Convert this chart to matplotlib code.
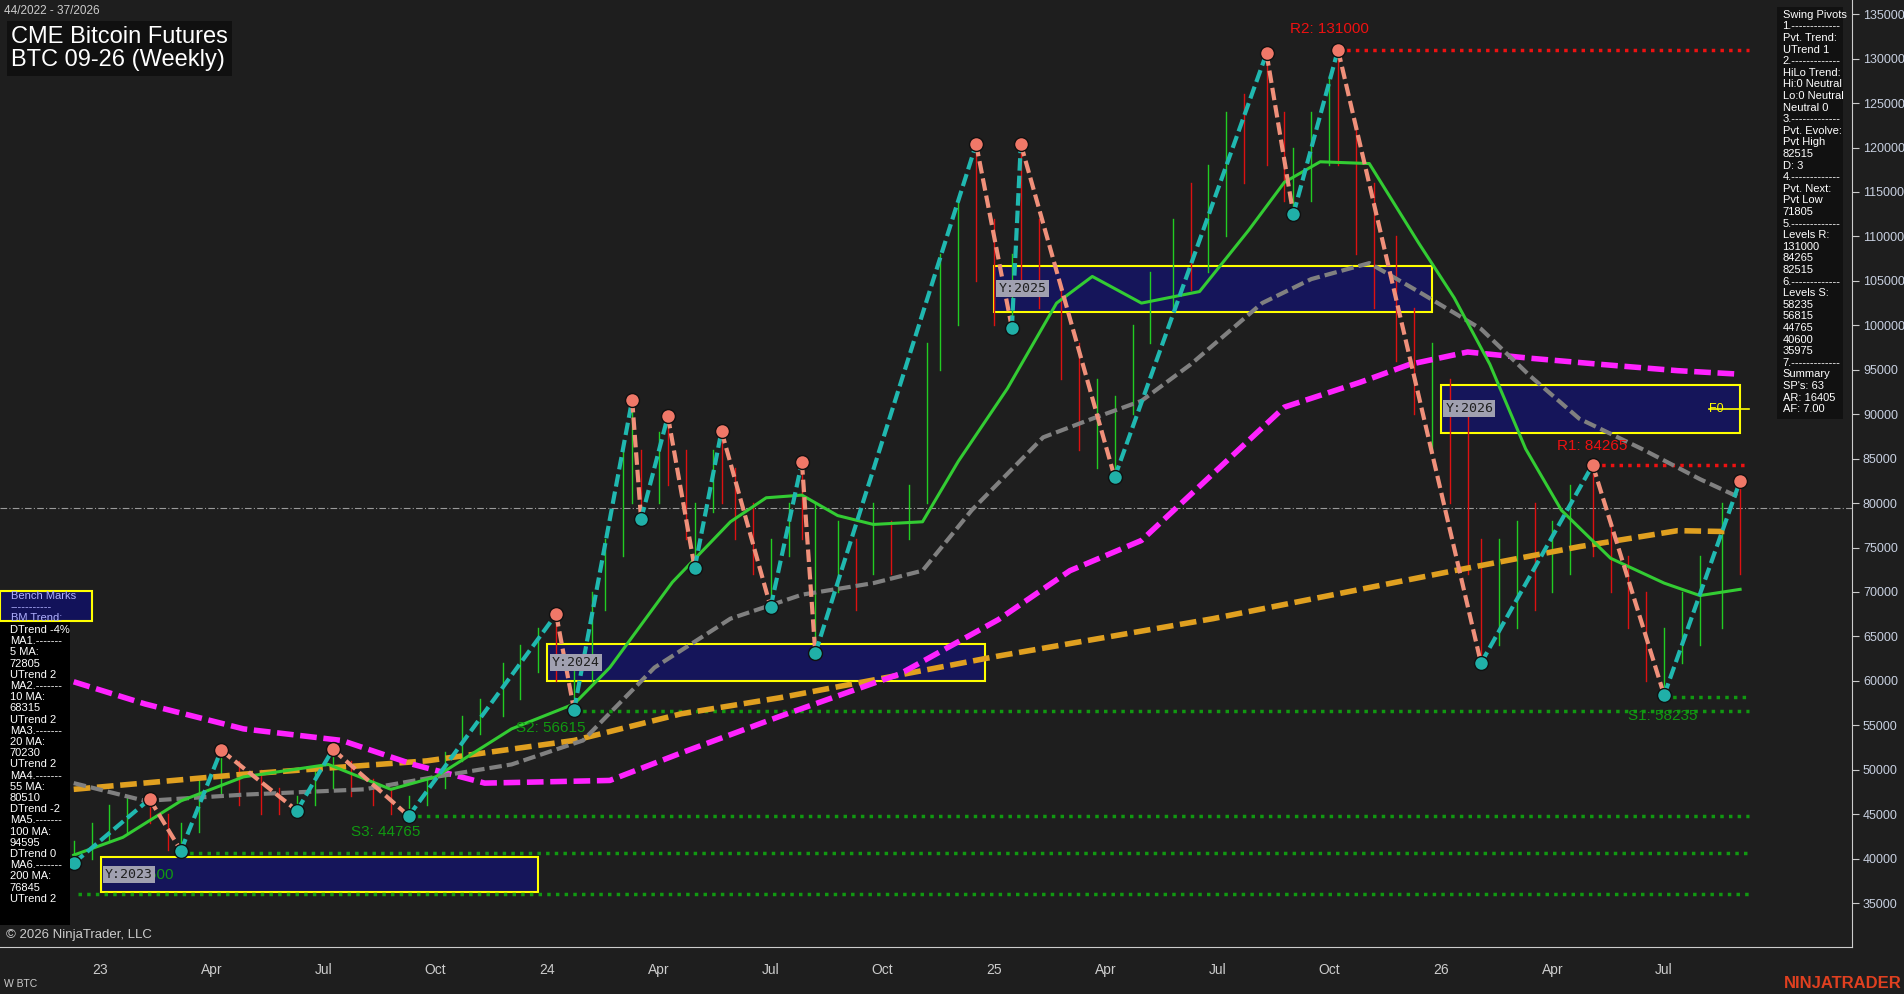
import matplotlib
matplotlib.use("Agg")
import matplotlib.pyplot as plt
from matplotlib.patches import Rectangle

plt.rcParams['font.family'] = ['Liberation Sans', 'DejaVu Sans']

# ---------------- data ----------------
bar_t = [2022.90,2022.94,2022.98,2023.02,2023.06,2023.11,2023.15,2023.18,2023.22,2023.27,2023.31,2023.36,2023.40,2023.44,2023.48,2023.52,2023.56,2023.61,2023.65,2023.69,2023.73,2023.77,2023.81,2023.85,2023.90,2023.94,2023.98,2024.02,2024.06,2024.10,2024.13,2024.17,2024.19,2024.21,2024.25,2024.27,2024.31,2024.33,2024.37,2024.39,2024.42,2024.46,2024.50,2024.54,2024.57,2024.60,2024.65,2024.69,2024.73,2024.77,2024.81,2024.85,2024.88,2024.92,2024.96,2025.00,2025.04,2025.06,2025.10,2025.15,2025.19,2025.23,2025.27,2025.31,2025.35,2025.40,2025.44,2025.48,2025.52,2025.56,2025.61,2025.65,2025.67,2025.71,2025.75,2025.77,2025.81,2025.85,2025.90,2025.94,2025.98,2026.02,2026.06,2026.09,2026.13,2026.17,2026.21,2026.25,2026.29,2026.34,2026.38,2026.42,2026.46,2026.50,2026.54,2026.58,2026.63,2026.67]
bar_hi = [43,42,44,46,47,47,45,44,49,52.5,51,50,48,47,50,52.5,51,49,48,47,49,52,56,58,62,64,66,67.5,62,70,76,86,92,86,88,90,86,80,86,88,84,80,76,80,85,80,78,76,80,78,82,98,108,114,120.5,112,108,120.4,112,104,98,94,92,100,106,112,116,118,124,126,131,124,120,124,128,131,122,116,110,102,98,94,90,76,76,78,80,78,82,84.3,78,74,70,66,70,74,80,82.5]
bar_lo = [38,39,40,42,43,44,41,40.5,43,47,46,45,45,45,46,48,47,46,45,44.5,46,48,51,54,56,58,61,60,57,60,68,74,80,78,80,82,76,73,79,80,76,72,68.5,74,76,63,70,68,72,72,76,80,95,100,105,100,99.7,104,102,94,86,84,83,90,98,102,104,106,110,116,118,114,112.5,114,118,118,108,102,96,90,86,80,72,62,64,66,68,70,72,74,70,66,60,58.4,62,64,66,72]
bar_up = [0,1,1,1,1,0,0,1,1,1,0,0,0,1,1,1,0,0,0,1,1,1,1,1,1,1,1,0,1,1,1,1,1,0,1,0,0,1,1,0,0,0,1,1,0,1,1,0,1,0,1,1,1,1,0,0,1,0,0,0,0,1,1,1,1,1,0,1,1,0,0,0,1,1,1,0,0,0,0,0,1,0,0,0,1,1,0,1,1,0,0,0,0,1,1,1,1,0]

piv_t = [2022.94,2023.11,2023.18,2023.27,2023.44,2023.52,2023.69,2024.02,2024.06,2024.19,2024.21,2024.27,2024.33,2024.39,2024.50,2024.57,2024.60,2024.96,2025.04,2025.06,2025.27,2025.61,2025.67,2025.77,2026.09,2026.34,2026.50,2026.67]
piv_v = [39.5,46.7,40.9,52.2,45.4,52.3,44.8,67.5,56.7,91.6,78.2,89.8,72.7,88.1,68.3,84.6,63.1,120.4,99.7,120.4,82.9,130.6,112.5,131.0,62.0,84.3,58.4,82.5]

ma_green_t = [2022.94,2023.05,2023.18,2023.32,2023.51,2023.65,2023.75,2023.92,2024.06,2024.14,2024.28,2024.41,2024.49,2024.57,2024.65,2024.73,2024.84,2024.92,2025.03,2025.14,2025.22,2025.33,2025.46,2025.57,2025.65,2025.73,2025.84,2025.95,2026.03,2026.11,2026.19,2026.27,2026.38,2026.50,2026.58,2026.67]
ma_green_v = [40.4,42.4,46.5,49.2,50.6,47.8,49.2,54.6,57.4,61.5,71.1,77.9,80.6,80.9,78.6,77.6,77.9,84.7,92.9,102.5,105.5,102.5,103.8,110.7,116.1,118.4,118.2,109.3,103.1,95.6,86.1,79.2,73.8,71.0,69.6,70.3]
ma_gray_t = [2022.94,2023.10,2023.32,2023.59,2023.75,2023.92,2024.08,2024.24,2024.41,2024.57,2024.73,2024.84,2024.95,2025.11,2025.22,2025.33,2025.44,2025.60,2025.71,2025.84,2025.95,2026.09,2026.20,2026.31,2026.45,2026.58,2026.67]
ma_gray_v = [48.5,46.5,47.2,47.8,49.2,50.6,53.3,61.5,67.0,69.7,71.0,72.4,79.2,87.4,89.5,91.5,95.6,102.5,105.2,107.0,103.8,99.6,94.3,89.5,86.1,82.7,80.6]
ma_mag_t = [2022.94,2023.10,2023.32,2023.54,2023.70,2023.86,2024.14,2024.30,2024.52,2024.79,2025.01,2025.17,2025.33,2025.49,2025.65,2025.82,2025.93,2026.06,2026.20,2026.36,2026.53,2026.67]
ma_mag_v = [59.9,57.4,54.6,53.3,50.6,48.5,48.8,51.9,56.0,60.8,66.9,72.4,75.8,83.3,90.8,93.6,95.6,97.0,96.3,95.6,94.9,94.5]
ma_org_t = [2022.94,2023.32,2023.73,2024.06,2024.30,2024.52,2024.73,2025.01,2025.33,2025.49,2025.76,2026.03,2026.31,2026.53,2026.64]
ma_org_v = [47.8,49.5,51.0,53.3,56.3,58.1,60.1,62.8,65.6,67.0,69.7,72.4,75.1,76.9,76.8]

years = [2023, 2024, 2025, 2026]
year_lo = [36.2, 60.0, 101.5, 87.9]
year_hi = [40.2, 64.1, 106.7, 93.3]
year_x0 = [2023.00, 2024.00, 2025.00, 2026.00]
year_x1 = [2023.98, 2024.98, 2025.98, 2026.67]

res_levels = [131.0, 84.265]
res_start = [2025.77, 2026.34]
res_names = ["R2: 131000", "R1: 84265"]
sup_levels = [58.235, 56.615, 44.765, 40.6, 35.975]
sup_start = [2026.50, 2024.06, 2023.69, 2023.18, 2022.95]
sup_names = ["S1: 58235", "S2: 56615", "S3: 44765", "40600", ""]

xtick_pos = [2023,2023.25,2023.5,2023.75,2024,2024.25,2024.5,2024.75,2025,2025.25,2025.5,2025.75,2026,2026.25,2026.5]
xtick_lab = ["23","Apr","Jul","Oct","24","Apr","Jul","Oct","25","Apr","Jul","Oct","26","Apr","Jul"]

right_text = ("Swing Pivots\n1.-------------\nPvt. Trend:\nUTrend 1\n2.-------------\nHiLo Trend:\nHi:0 Neutral\nLo:0 Neutral\nNeutral 0\n3.-------------\nPvt. Evolve:\nPvt High\n82515\nD: 3\n4.-------------\nPvt. Next:\nPvt Low\n71805\n5.-------------\nLevels R:\n131000\n84265\n82515\n6.-------------\nLevels S:\n58235\n56815\n44765\n40600\n35975\n7.-------------\nSummary\nSP's: 63\nAR: 16405\nAF: 7.00")
left_text = ("DTrend -4%\nMA1.-------\n5 MA:\n72805\nUTrend 2\nMA2.-------\n10 MA:\n68315\nUTrend 2\nMA3.-------\n20 MA:\n70230\nUTrend 2\nMA4.-------\n55 MA:\n80510\nDTrend -2\nMA5.-------\n100 MA:\n94595\nDTrend 0\nMA6.-------\n200 MA:\n76845\nUTrend 2")

# ---------------- drawing ----------------
BG = "#1e1e1e"
fig = plt.figure(figsize=(19.04, 9.94), dpi=100, facecolor=BG)
ax = fig.add_axes([0, 1 - 780/819, 1525/1568, 780/819])
ax.set_facecolor(BG)
X0, X1 = 2022.775, 2026.92
ax.set_xlim(X0, X1)
ax.set_ylim(30.1, 136.6)

ax.axhline(79.5, color="#9a9a9a", lw=0.8, ls=(0, (6, 2, 1, 2)), zorder=1)

for y, lo, hi, x0, x1 in zip(years, year_lo, year_hi, year_x0, year_x1):
    ax.add_patch(Rectangle((x0, lo), x1 - x0, hi - lo, facecolor="#15155a", edgecolor="#ffff00", lw=1.5, zorder=2))
    ax.text(x0 + 0.01, (lo + hi) / 2, f"Y:{y}", color="#202020", fontsize=9.5, va="center",
            family="DejaVu Sans Mono",
            bbox=dict(facecolor="#a0a0b0", edgecolor="none", pad=1.5), zorder=8)
ax.text(2026.6, 90.6, "F0", color="#ffff00", fontsize=9, va="center", zorder=6)
ax.plot([2026.6, 2026.69], [90.6, 90.6], color="#ffff00", lw=1.2, zorder=6)

for t, h, l, u in zip(bar_t, bar_hi, bar_lo, bar_up):
    ax.plot([t, t], [l, h], color="#22cc22" if u else "#dd1111", lw=1.0, zorder=3)

ax.plot(ma_org_t, ma_org_v, color="#e0a020", lw=4, ls=(0, (3, 1.2)), zorder=4)
ax.plot(ma_mag_t, ma_mag_v, color="#ff22ff", lw=4, ls=(0, (3, 1.2)), zorder=4)
ax.plot(ma_gray_t, ma_gray_v, color="#808080", lw=3, ls=(0, (3, 1.2)), zorder=4)
ax.plot(ma_green_t, ma_green_v, color="#33cc33", lw=2.2, zorder=4)

for lv, st in zip(res_levels, res_start):
    ax.plot([st, 2026.69], [lv, lv], color="#ee1111", lw=2.5, ls=(0, (1, 1.5)), zorder=3)
for lv, st in zip(sup_levels, sup_start):
    ax.plot([st, 2026.69], [lv, lv], color="#119911", lw=2.5, ls=(0, (1, 1.5)), zorder=3)
ax.text(2025.75, 132.9, res_names[0], color="#ee1111", fontsize=11, ha="center", zorder=7)
ax.text(2026.34, 86.0, res_names[1], color="#ee1111", fontsize=11, ha="center", zorder=7)
ax.text(2026.42, 55.6, sup_names[0], color="#119911", fontsize=11, zorder=7)
ax.text(2023.93, 54.3, sup_names[1], color="#119911", fontsize=11, zorder=7)
ax.text(2023.56, 42.6, sup_names[2], color="#119911", fontsize=11, zorder=7)
ax.text(2023.07, 37.7, sup_names[3], color="#119911", fontsize=11, zorder=7)

for i in range(len(piv_t) - 1):
    up = piv_v[i + 1] > piv_v[i]
    ax.plot(piv_t[i:i + 2], piv_v[i:i + 2], color="#20b8b0" if up else "#f0907a", lw=3,
            ls=(0, (3, 1.2)), zorder=5)
for i, (t, v) in enumerate(zip(piv_t, piv_v)):
    hi = (i + 1 < len(piv_v) and piv_v[i + 1] < v) or (i == len(piv_v) - 1)
    ax.plot(t, v, "o", ms=10, mfc="#f07868" if hi else "#20b0a8", mec="#101010", mew=1, zorder=6)

for s in ["top", "left", "bottom"]:
    ax.spines[s].set_visible(False)
ax.spines["right"].set_color("#cccccc")
ax.yaxis.tick_right()
ax.set_yticks(range(35, 136, 5))
ax.set_yticklabels([f"{v*1000}" for v in range(35, 136, 5)])
ax.set_xticks(xtick_pos)
ax.set_xticklabels(xtick_lab)
ax.tick_params(colors="#cccccc", labelsize=10)
ax.tick_params(axis="y", length=5, pad=3, labelsize=9, labelcolor="#c8d0e0")
ax.tick_params(axis="x", length=0, pad=12)

fx = lambda x: x / 1568
fy = lambda y: 1 - y / 819
fig.add_artist(plt.Line2D([0, fx(1525)], [fy(780), fy(780)], color="#cccccc", lw=0.8))

fig.text(fx(3), fy(9), "44/2022 - 37/2026", color="#cccccc", fontsize=8.5, va="center")
fig.text(fx(9), fy(40), "CME Bitcoin Futures\nBTC 09-26 (Weekly)", color="#ffffff", fontsize=17, va="center",
         linespacing=1.1, bbox=dict(facecolor="#101010", edgecolor="none", pad=3))
fig.text(fx(5), fy(770), "© 2026 NinjaTrader, LLC", color="#cccccc", fontsize=9.5, va="center")
fig.text(fx(3), fy(811), "W BTC", color="#cccccc", fontsize=7.5, va="center")
fig.text(fx(1566), fy(810), "NINJATRADER", color="#e04020", fontsize=12, fontweight="bold", ha="right", va="center")

fig.add_artist(Rectangle((fx(1463), fy(345)), fx(1518) - fx(1463), fy(6) - fy(345),
                         facecolor="#111111", edgecolor="none", transform=fig.transFigure, zorder=8))
fig.text(fx(1468), fy(8), right_text, color="#ffffff", fontsize=8, va="top", linespacing=1.2, zorder=9)

fig.add_artist(Rectangle((0, fy(762)), fx(58), fy(512) - fy(762), facecolor="#000000", edgecolor="none",
                         transform=fig.transFigure, zorder=8))
fig.add_artist(Rectangle((0, fy(512)), fx(76), fy(487) - fy(512), facecolor="#12125a", edgecolor="#ffff00",
                         lw=1.5, transform=fig.transFigure, zorder=8))
fig.text(fx(9), fy(487), "Bench Marks\n-----------\nBM Trend:", color="#b0b0ff", fontsize=8, va="top",
         linespacing=1.15, zorder=9)
fig.text(fx(8), fy(515), left_text, color="#ffffff", fontsize=8, va="top", linespacing=1.15, zorder=9)

fig.savefig("out.png", dpi=100, facecolor=BG)
